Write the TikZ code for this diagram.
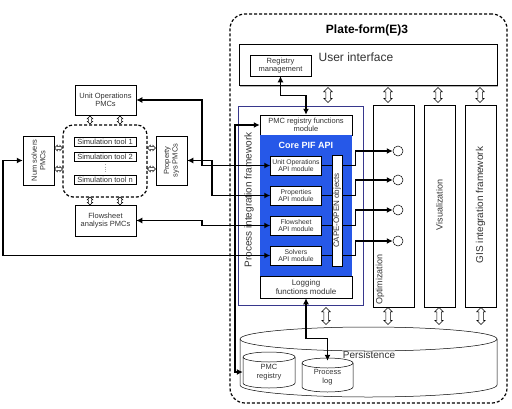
\documentclass[tikz,border=0pt]{standalone}
\usepackage{fontspec}
\setmainfont{Liberation Sans}
\usetikzlibrary{arrows.meta}
\usetikzlibrary{shapes.geometric,shapes.arrows}
\usetikzlibrary{shadows}
\definecolor{pifblue}{RGB}{38,88,232}
\definecolor{pifnavy}{RGB}{55,55,140}
% name, centre x, centre y, half width, half height, cap radius, text
\newcommand{\drum}[7]{%
  \draw[fill=white, line width=0.5pt] (#2-#4,#3-#5+#6) -- (#2-#4,#3+#5-#6)
    arc[start angle=180, end angle=360, x radius=#4pt, y radius=#6pt]
    -- (#2+#4,#3-#5+#6)
    arc[start angle=0, end angle=180, x radius=#4pt, y radius=#6pt] -- cycle;
  \draw[line width=0.5pt] (#2-#4,#3-#5+#6)
    arc[start angle=180, end angle=360, x radius=#4pt, y radius=#6pt];
  \node[minimum width=2*#4, minimum height=2*#5] (#1) at (#2,#3+2) {#7};
}

\begin{document}
\begin{tikzpicture}[x=1pt, y=-1pt, >={Latex[length=6pt,width=6pt]},
    every node/.style={font=\fontsize{7.5}{8.5}\selectfont, align=center, inner sep=0pt, text=black!80},
    box/.style={draw, fill=white, line width=0.5pt},
    shadowed/.style={general shadow={fill=black!30, shadow xshift=1.2pt, shadow yshift=-1.2pt}},
    hollow/.style={double arrow, draw, fill=white, line width=0.5pt, minimum height=15pt, inner sep=2pt, double arrow head extend=2pt},
    plug/.style={double arrow, draw, fill=white, line width=0.5pt, minimum height=8pt, inner sep=1.3pt, double arrow head extend=1.2pt},
    port/.style={circle, draw, fill=white, line width=0.5pt, minimum size=10pt},
    link/.style={<->, line width=1.5pt},
    dashbox/.style={draw, line width=1.2pt, dash pattern=on 3pt off 2pt, rounded corners=15pt}]
\useasboundingbox (0,0) rectangle (512,408);

% platform
\node[dashbox, minimum width=277, minimum height=389] (platform) at (368.5,208.5) {};
\node[font=\bfseries\fontsize{12}{14}\selectfont, text=black] (ptitle) at (367,30) {Plate-form(E)3};

\node[box, shadowed, minimum width=258, minimum height=41] (ui) at (368,65) {};
\node[font=\fontsize{12}{14}\selectfont] (uitext) at (356,57) {User interface};
\node[box, minimum width=61, minimum height=21] (regmgmt) at (280.5,65.5) {Registry\\management};

\foreach \x [count=\i] in {328,388,438,480}
  \node[hollow, rotate=90] (ua\i) at (\x,95) {};
\foreach \x [count=\i] in {326,388,439,481}
  \node[hollow, rotate=90, minimum height=17pt] (da\i) at (\x,316) {};

% process integration framework
\node[box, draw=pifnavy, shadowed, minimum width=125, minimum height=199] (pif) at (300.5,205.5) {};
\node[rotate=90, font=\fontsize{10}{12}\selectfont] (piftext) at (249,200) {Process integration framework};
\node[box, minimum width=92, minimum height=20] (pmcfunc) at (306,125) {PMC registry functions\\module};
\node[fill=pifblue, minimum width=92, minimum height=141] (corepif) at (306,205.5) {};
\node[text=white, font=\bfseries\fontsize{9}{10}\selectfont] (coretext) at (306,145) {Core PIF API};
\foreach \y/\n/\t in {165.5/uoapi/Unit Operations, 195.5/propapi/Properties, 225.5/fsapi/Flowsheet, 255.5/solvapi/Solvers}
  \node[box, minimum width=51, minimum height=19, font=\fontsize{6.8}{7.6}\selectfont] (\n) at (296,\y) {\t\\API module};
\node[box, rotate=90, minimum width=111, minimum height=10, font=\fontsize{8}{9}\selectfont] (capeopen) at (337,210.5) {CAPE-OPEN objects};
\node[box, minimum width=92, minimum height=22, font=\fontsize{8}{9}\selectfont] (logging) at (306,287) {Logging\\functions module};

% columns
\node[box, shadowed, minimum width=41, minimum height=202] (optim) at (393.5,206) {};
\node[rotate=90, anchor=west, font=\fontsize{9}{10}\selectfont] (optimtext) at (380,305) {Optimization};
\node[box, shadowed, minimum width=31, minimum height=202] (visu) at (439.5,206) {};
\node[rotate=90, font=\fontsize{9}{10}\selectfont] (visutext) at (439.5,205) {Visualization};
\node[box, shadowed, minimum width=31, minimum height=202] (gis) at (480.5,206) {};
\node[rotate=90, font=\fontsize{10}{12}\selectfont] (gistext) at (480.5,205) {GIS integration framework};
\foreach \y [count=\i] in {151,180,210,241}
  \node[port] (c\i) at (398,\y) {};

% persistence
\drum{persist}{368.5}{362}{128.5}{35}{12}{}
\node[font=\fontsize{10}{12}\selectfont] (persisttext) at (369,355) {Persistence};
\drum{pmcreg}{269}{370}{26}{18}{5}{PMC\\registry}
\drum{proclog}{327.5}{375}{25.5}{17}{5}{Process\\log}

% PMCs and simulation tools
\node[box, minimum width=61, minimum height=30] (uopmc) at (105.5,100) {Unit Operations\\PMCs};
\node[dashbox, rounded corners=10pt, minimum width=84, minimum height=72] (simbox) at (105,161) {};
\node[box, minimum width=62, minimum height=9] (sim1) at (105,141.5) {Simulation tool 1};
\node[box, minimum width=62, minimum height=9] (sim2) at (105,156.5) {Simulation tool 2};
\node[box, minimum width=62, minimum height=9] (simn) at (105,179.5) {Simulation tool n};
\draw[dotted, gray!70, shorten <=3pt, shorten >=3pt] (sim2) -- (simn);
\node[box, rotate=90, minimum width=49, minimum height=31] (numsolv) at (38.5,160.5) {Num solvers\\PMCs};
\node[box, rotate=90, minimum width=49, minimum height=31] (propsys) at (171.5,160.5) {Property\\sys PMCs};
\node[box, minimum width=61, minimum height=31] (fspmc) at (105.5,220.5) {Flowsheet\\analysis PMCs};

\foreach \x [count=\i] in {90,120} {
  \node[plug, rotate=90] (pt\i) at (\x,120) {};
  \node[plug, rotate=90] (pb\i) at (\x,201) {};
}
\foreach \y [count=\i] in {148,169} {
  \node[plug] (pl\i) at (58.5,\y) {};
  \node[plug] (pr\i) at (151.5,\y) {};
}

% connections
\draw[link] (uopmc.east) -- (202,100) |- (uoapi.west);
\draw[link] (propsys.south) -- (212,160.5) |- (propapi.west);
\draw[link] (fspmc.east) -- (202,220.5) |- (fsapi.west);
\draw[link] (numsolv.north) -- (3,160.5) |- (solvapi.west);
\draw[link] (pmcfunc.west) -- (235,125) |- (pmcreg.west);
\draw[link] (regmgmt.south) -- ++(0,19) -| (pmcfunc.north);
\draw[link] (logging.south) -- ++(0,40) -| ([yshift=-1pt]proclog.north);
\foreach \n [count=\i] in {uoapi,propapi,fsapi,solvapi} {
  \draw[line width=1.5pt] (\n.east) -- (capeopen.north |- \n.east);
  \draw[->, line width=1.5pt] (capeopen.south |- \n.east) -- ++(13,0) |- (c\i.west);
}

\end{tikzpicture}
\end{document}
